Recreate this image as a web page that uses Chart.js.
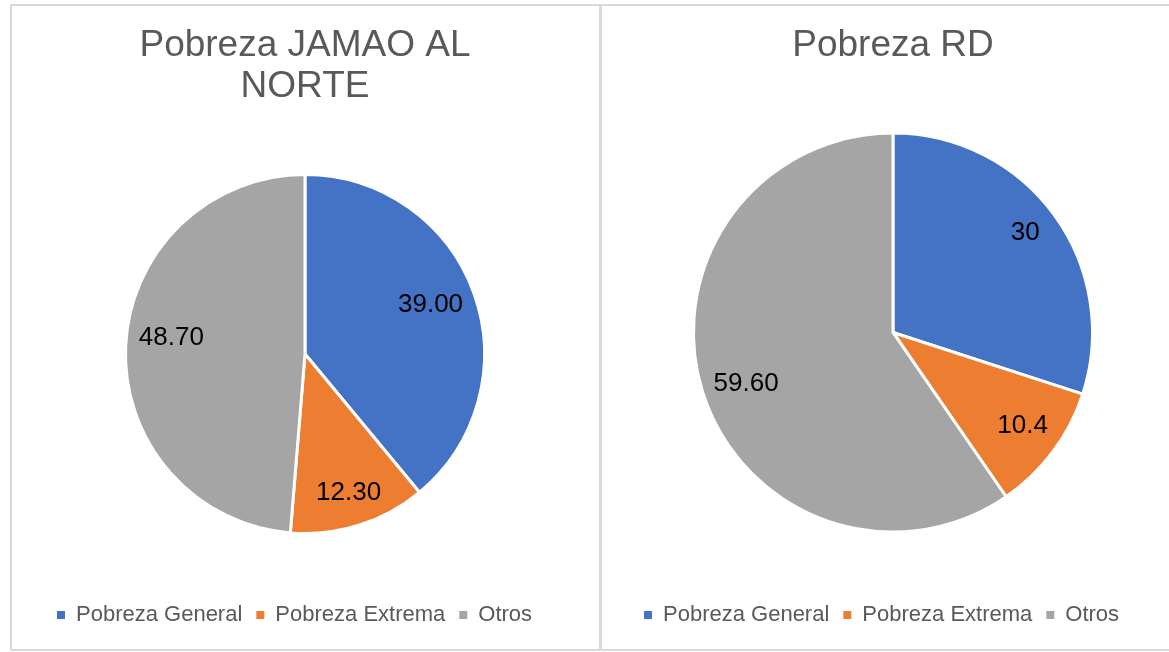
<!DOCTYPE html>
<html>
<head>
<meta charset="utf-8">
<script src="https://cdn.jsdelivr.net/npm/chart.js@4.4.1/dist/chart.umd.min.js"></script>
<style>
  body { margin: 0; background: #fff; width: 1169px; height: 652px; overflow: hidden; position: relative; }
  .panel { position: absolute; top: 4px; height: 647px; box-sizing: border-box; border: 2px solid #d9d9d9; }
  canvas { position: absolute; top: 6px; }
</style>
</head>
<body>
<div class="panel" style="left:10px;width:591px;"></div>
<div class="panel" style="left:600px;width:600px;"></div>
<canvas id="jamaochart" width="524" height="642" style="left:43px;width:524px;height:642px;"></canvas>
<canvas id="rdchart" width="526" height="642" style="left:630px;width:526px;height:642px;"></canvas>
<script>
var categories = ['Pobreza General', 'Pobreza Extrema', 'Otros'];
var colors = ['#4472C4', '#ED7D31', '#A5A5A5'];

var jamaoValues = [39.00, 12.30, 48.70];
var jamaoLabels = ['39.00', '12.30', '48.70'];

var rdValues = [30, 10.4, 59.60];
var rdLabels = ['30', '10.4', '59.60'];

var fontFamily = '"Liberation Sans", Arial, sans-serif';

// value labels inside the slices
var sliceLabels = {
  id: 'sliceLabels',
  afterDatasetsDraw: function(chart, args, opts) {
    var ctx = chart.ctx;
    var meta = chart.getDatasetMeta(0);
    ctx.save();
    ctx.font = '26px ' + fontFamily;
    ctx.fillStyle = '#000';
    ctx.textAlign = 'center';
    ctx.textBaseline = 'middle';
    meta.data.forEach(function(arc, i) {
      var p = arc.getProps(['x', 'y', 'startAngle', 'endAngle', 'outerRadius'], true);
      var a = (p.startAngle + p.endAngle) / 2 + opts.shift[i] * Math.PI / 180;
      var r = p.outerRadius * opts.dist[i];
      ctx.fillText(opts.text[i], p.x + Math.cos(a) * r, p.y + Math.sin(a) * r);
    });
    ctx.restore();
  }
};

function legendItems(chart) {
  var items = Chart.overrides.doughnut.plugins.legend.labels.generateLabels(chart);
  items.forEach(function(it) { it.lineWidth = 0; });
  return items;
}

function makePie(id, title, values, texts, radius, titlePad, dist, shift) {
  return new Chart(document.getElementById(id), {
    type: 'pie',
    data: {
      labels: categories,
      datasets: [{
        data: values,
        backgroundColor: colors,
        borderColor: '#ffffff',
        borderWidth: 3
      }]
    },
    options: {
      responsive: false,
      devicePixelRatio: 1,
      animation: false,
      events: [],
      radius: radius,
      layout: { padding: { top: 0, bottom: 12, left: 0, right: 0 } },
      plugins: {
        title: {
          display: true,
          text: title,
          color: '#595959',
          font: { family: fontFamily, size: 37, weight: 'normal', lineHeight: 1.127 },
          padding: titlePad
        },
        legend: {
          position: 'bottom',
          align: 'start',
          labels: {
            boxWidth: 8,
            boxHeight: 8,
            padding: 14,
            color: '#595959',
            font: { family: fontFamily, size: 22 },
            generateLabels: legendItems
          }
        },
        tooltip: { enabled: false },
        sliceLabels: { text: texts, dist: dist, shift: shift }
      }
    },
    plugins: [sliceLabels]
  });
}

var jamaoPie = makePie('jamaochart', ['Pobreza JAMAO AL', 'NORTE'], jamaoValues, jamaoLabels,
  179.5, { top: 18.6, bottom: 10 }, [0.75, 0.81, 0.75], [-1.4, 0, 4.4]);
var rdPie = makePie('rdchart', 'Pobreza RD', rdValues, rdLabels,
  199.5, { top: 18.6, bottom: 8.6 }, [0.83, 0.80, 0.78], [-1, -1, -2]);
</script>
</body>
</html>
